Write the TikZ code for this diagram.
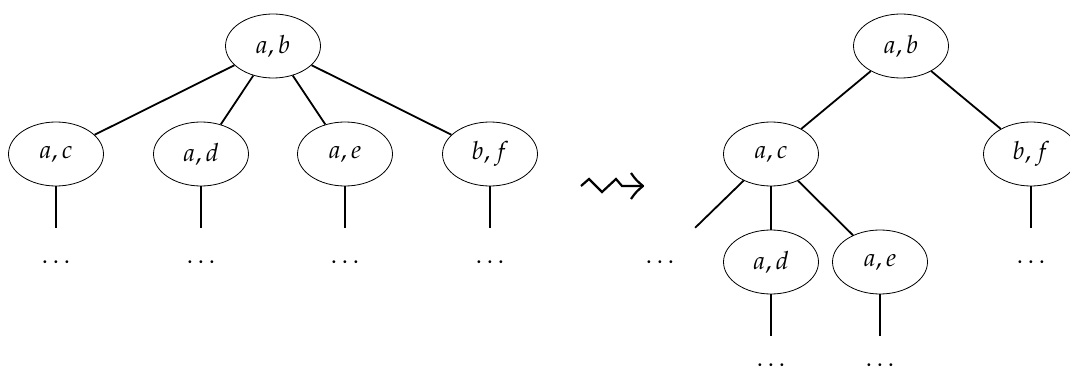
\documentclass[tikz,border=0pt]{standalone}
\usepackage{mathpazo}
\usetikzlibrary{shapes.geometric}
\begin{document}
\begin{tikzpicture}[x=1pt,y=-1pt,
  tn/.style={ellipse,draw,line width=0.8pt,minimum width=95pt,minimum height=64pt,inner sep=0pt,font=\fontsize{25}{30}\selectfont},
  dn/.style={minimum width=80pt,minimum height=68pt,inner sep=0pt,font=\fontsize{25}{30}\selectfont},
  ed/.style={line width=1.8pt},
  sq/.style={line width=2.2pt,line join=miter,line cap=butt}]
\useasboundingbox (0,0) rectangle (1070,374);
% left tree
\node[tn] (ab) at (273,46) {$a,b$};
\node[tn] (ac) at (56,154) {$a,c$};
\node[tn] (ad) at (201,154) {$a,d$};
\node[tn] (ae) at (345,154) {$a,e$};
\node[tn] (bf) at (490,154) {$b,f$};
\node[dn] (dc) at (56,262) {$\dots$};
\node[dn] (dd) at (201,262) {$\dots$};
\node[dn] (de) at (345,262) {$\dots$};
\node[dn] (df) at (490,262) {$\dots$};
\draw[ed] (ab) -- (ac);
\draw[ed] (ab) -- (ad);
\draw[ed] (ab) -- (ae);
\draw[ed] (ab) -- (bf);
\draw[ed] (ac) -- (dc);
\draw[ed] (ad) -- (dd);
\draw[ed] (ae) -- (de);
\draw[ed] (bf) -- (df);
% squiggly arrow
\draw[sq] (581,186) -- (589,179) -- (602,192) -- (616,179) -- (622,186) -- (643,186);
\draw[sq,line join=round] (631,173) .. controls (636,180) .. (643,186) .. controls (636,192) .. (631,199);
% right tree
\node[tn] (rab) at (901,46) {$a,b$};
\node[tn] (rac) at (771,154) {$a,c$};
\node[tn] (rbf) at (1031,154) {$b,f$};
\node[tn] (rad) at (771,262) {$a,d$};
\node[tn] (rae) at (880,262) {$a,e$};
\node[dn] (rdl) at (660,262) {$\dots$};
\node[dn] (rdf) at (1031,262) {$\dots$};
\node[dn,minimum height=58pt] (rdd) at (771,365) {$\dots$};
\node[dn,minimum height=58pt] (rde) at (880,365) {$\dots$};
\draw[ed] (rab) -- (rac);
\draw[ed] (rab) -- (rbf);
\draw[ed] (rac) -- (rdl);
\draw[ed] (rac) -- (rad);
\draw[ed] (rac) -- (rae);
\draw[ed] (rbf) -- (rdf);
\draw[ed] (rad) -- (rdd);
\draw[ed] (rae) -- (rde);
\end{tikzpicture}
\end{document}
